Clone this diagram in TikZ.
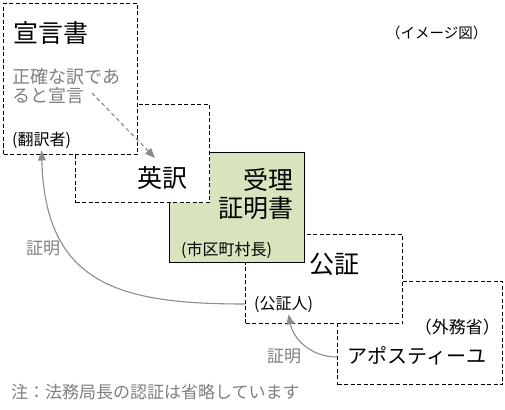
\documentclass[tikz,border=0pt]{standalone}
\usepackage{fontspec}
\newfontfamily\jp{Noto Sans CJK JP}
\usetikzlibrary{arrows.meta}
\definecolor{lgreen}{HTML}{D7E4BD}
\definecolor{agray}{HTML}{8C8C8C}
\definecolor{tgray}{HTML}{7F7F7F}
\tikzset{
  dbox/.style={draw=black, line width=1pt, dash pattern=on 4pt off 2.5pt, fill=white, anchor=north west, inner sep=0pt},
  gbox/.style={draw=black, line width=0.9pt, fill=lgreen, anchor=north west, inner sep=0pt},
  big/.style={inner sep=0pt, font=\jp\fontsize{25}{28}\selectfont},
  mid/.style={inner sep=0pt, font=\jp\fontsize{16}{18}\selectfont},
  ann/.style={inner sep=0pt, text=tgray, font=\jp\fontsize{17}{19}\selectfont},
  garrow/.style={draw=agray, line width=1.1pt, -{Triangle[length=10pt,width=8pt]}},
}
\begin{document}
\begin{tikzpicture}[x=1pt,y=-1pt]
\useasboundingbox (0,0) rectangle (505,409);
% boxes (back to front)
\node[dbox, minimum width=165pt, minimum height=103pt] (b5) at (337,281) {};
\node[dbox, minimum width=157pt, minimum height=89pt] (b4) at (245,234) {};
\node[gbox, minimum width=135pt, minimum height=110pt] (b3) at (169,152) {};
\node[dbox, minimum width=134pt, minimum height=98pt] (b2) at (75,104) {};
\node[dbox, minimum width=134pt, minimum height=151pt] (b1) at (3,3) {};
% texts
\node[big, anchor=west] (sg) at (13,33) {宣言書};
\node[inner sep=0pt, anchor=west, font=\jp\fontsize{14.5}{16}\selectfont] (im) at (386,33) {（イメージ図）};
\node[inner sep=0pt, anchor=north west, align=left, text=tgray, font=\jp\fontsize{18}{19.5}\selectfont] (sk) at (12,68) {正確な訳であ\\ると宣言};
\node[mid, anchor=west] (tr) at (12,140) {(翻訳者)};
\node[big, anchor=west] (ey) at (137,178) {英訳};
\node[big, anchor=north east, align=right] (jr) at (294,168) {受理\\証明書};
\node[mid, anchor=west] (sc) at (181,250) {(市区町村長)};
\node[big, anchor=west] (ks) at (309,264) {公証};
\node[mid, anchor=west] (kn) at (254,305) {(公証人)};
\node[inner sep=0pt, anchor=east, font=\jp\fontsize{17}{19}\selectfont] (gm) at (500,327) {（外務省）};
\node[inner sep=0pt, anchor=west, font=\jp\fontsize{20}{22}\selectfont] (ap) at (347,356) {アポスティーユ};
\node[ann, anchor=west] (sm1) at (26,248) {証明};
\node[ann, anchor=west] (sm2) at (267,356) {証明};
\node[ann, anchor=west] (nt) at (11,392) {注：法務局長の認証は省略しています};
% connectors
\coordinate (d1s) at (92,93);
\coordinate (d1e) at (155,158);
\coordinate (c1s) at (245,304);
\coordinate (c2s) at (337,357);
\draw[agray, line width=1.2pt, dash pattern=on 4pt off 3pt, -{Triangle[length=10pt,width=8pt]}] (d1s) -- (d1e);
\draw[garrow] (c1s) .. controls (120,304) and (45,285) .. ([yshift=-2pt]tr.south);
\draw[garrow] (c2s) .. controls (310,357) and (293,338) .. ([xshift=5pt,yshift=-1pt]kn.south);
\end{tikzpicture}
\end{document}
